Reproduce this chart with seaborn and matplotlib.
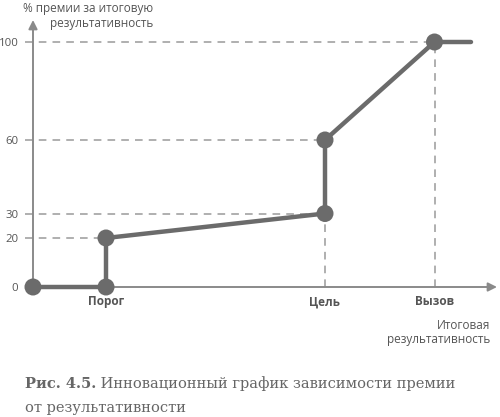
import matplotlib
matplotlib.use("Agg")
import matplotlib.pyplot as plt
import seaborn as sns

# ==========================
# Data
# ==========================

perf_x = [0, 1, 1, 4, 4, 5.5, 6]
bonus_y = [0, 0, 20, 30, 60, 100, 100]

dot_x = [0, 1, 1, 4, 4, 5.5]
dot_y = [0, 0, 20, 30, 60, 100]

level_y = [20, 30, 60, 100]
level_x = [1, 4, 4, 5.5]

target_x = [4, 5.5]
target_top = [30, 100]

tick_x = [1, 4, 5.5]
tick_labels = ["Порог", "Цель", "Вызов"]
ytick_vals = [0, 20, 30, 60, 100]

# ==========================
# Style
# ==========================

sns.set_style("white")
plt.rcParams["font.family"] = ["Open Sans", "DejaVu Sans"]

line_col = "#6b6b6b"
axis_col = "#8a8a8a"
guide_col = "#9a9a9a"
text_col = "#555555"

W, H = 500, 417
fig = plt.figure(figsize=(W / 100, H / 100), dpi=100)
ax = fig.add_axes([33 / W, (H - 287) / H, 464 / W, 267 / H])
ax.set_xlim(0, 464 / 73)
ax.set_ylim(0, 267 / 2.45)

for s in ax.spines.values():
    s.set_visible(False)

# axis arrows
ax.annotate("", xy=(0, 267 / 2.45), xytext=(0, 0),
            arrowprops=dict(arrowstyle="-|>", color=axis_col, lw=1.4,
                            mutation_scale=13, shrinkA=0, shrinkB=0),
            annotation_clip=False)
ax.annotate("", xy=(464 / 73, 0), xytext=(0, 0),
            arrowprops=dict(arrowstyle="-|>", color=axis_col, lw=1.4,
                            mutation_scale=13, shrinkA=0, shrinkB=0),
            annotation_clip=False)

# dashed guides
for yv, xv in zip(level_y, level_x):
    ax.plot([-0.11, xv], [yv, yv], color=guide_col, lw=1.1,
            dashes=(5, 4), clip_on=False, zorder=1)
for xv, yv in zip(target_x, target_top):
    ax.plot([xv, xv], [0, yv], color=guide_col, lw=1.1,
            dashes=(5, 4), clip_on=False, zorder=1)

# main curve
sns.lineplot(x=perf_x, y=bonus_y, sort=False, estimator=None, ax=ax,
             color=line_col, lw=3.2, zorder=3)
sns.scatterplot(x=dot_x, y=dot_y, ax=ax, color=line_col, s=150,
                edgecolor="none", zorder=4, clip_on=False)
for c in ax.collections + ax.lines:
    c.set_clip_on(False)

# ticks
ax.set_xticks(tick_x)
ax.set_xticklabels(tick_labels, fontsize=8.5, fontweight="bold", color=text_col)
ax.set_yticks(ytick_vals)
ax.set_yticklabels([str(v) for v in ytick_vals], fontsize=8.2, color=text_col)
ax.tick_params(axis="x", length=0, pad=6)
ax.tick_params(axis="y", length=0, pad=10.5)
ax.grid(False)

# axis titles
fig.text(153 / W, 1 - 2 / H, "% премии за итоговую\nрезультативность",
         ha="right", va="top", multialignment="right", fontsize=8.5,
         color=text_col, linespacing=1.15)
fig.text(490 / W, 1 - 319 / H, "Итоговая\nрезультативность",
         ha="right", va="top", multialignment="right", fontsize=8.5,
         color=text_col, linespacing=1.15)

# caption
cap = fig.text(25 / W, 1 - 388 / H, "Рис. 4.5.", ha="left", va="baseline",
               fontsize=10.5, fontweight="bold", color="#666666",
               family="DejaVu Serif")
ax.annotate(" Инновационный график зависимости премии", xy=(1, 0),
            xycoords=cap, va="bottom", ha="left", fontsize=10.5,
            color="#666666", family="DejaVu Serif")
fig.text(25 / W, 1 - 412 / H, "от результативности", ha="left",
         va="baseline", fontsize=10.5, color="#666666", family="DejaVu Serif")

fig.savefig("out.png", dpi=100)
